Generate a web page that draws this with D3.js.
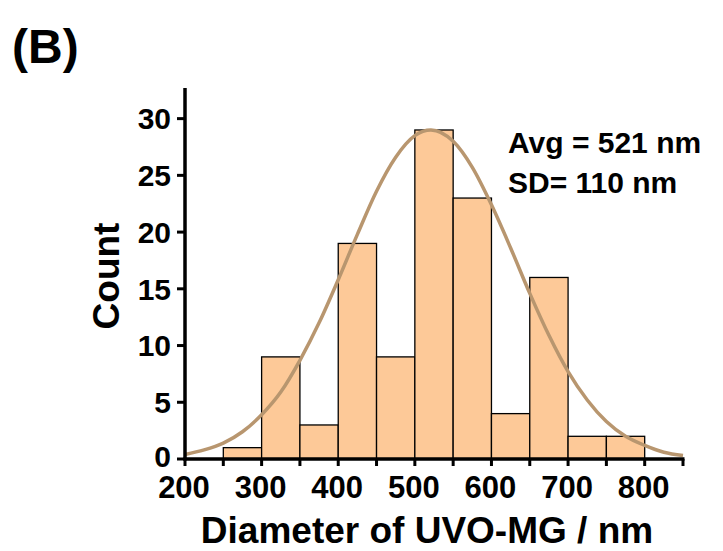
<!DOCTYPE html>
<html>
<head>
<meta charset="utf-8">
<script src="https://cdn.jsdelivr.net/npm/d3@7"></script>
<style>
  body { margin: 0; background: #fff; }
  text { font-family: "Liberation Sans", Arial, sans-serif; font-weight: bold; fill: #000; }
</style>
</head>
<body>
<div id="chart"></div>
<script>
// histogram data
var binStart = [250, 300, 350, 400, 450, 500, 550, 600, 650, 700, 750];
var binWidth = 50;
var counts = [1, 9, 3, 19, 9, 29, 23, 4, 16, 2, 2];

// gauss fit curve
var fitX = [200, 225, 250, 275, 300, 325, 350, 375, 400, 425, 450, 475, 500, 521, 550, 575, 600, 625, 650, 675, 700, 725, 750, 775, 800, 825, 850];
var fitY = [0.4, 0.8, 1.4, 2.4, 3.9, 5.9, 8.7, 12.0, 15.8, 19.8, 23.6, 26.6, 28.5, 29.0, 28.0, 25.7, 22.4, 18.6, 14.6, 10.9, 7.7, 5.2, 3.3, 2.0, 1.2, 0.6, 0.3];

var xTicks = [200, 300, 400, 500, 600, 700, 800];
var xMinor = [250, 350, 450, 550, 650, 750, 850];
var yTicks = [0, 5, 10, 15, 20, 25, 30];

var w = 723, h = 551;

var svg = d3.select("#chart")
    .append("svg")
    .attr("width", w)
    .attr("height", h);

var x = d3.scaleLinear().domain([200, 850]).range([185, 683]);
var y = d3.scaleLinear().domain([0, 32.7]).range([459, 88]);

// bars
svg.selectAll(".bar")
    .data(counts)
    .enter()
    .append("rect")
    .attr("class", "bar")
    .attr("x", function(d, i) { return x(binStart[i]); })
    .attr("width", function(d, i) { return x(binStart[i] + binWidth) - x(binStart[i]); })
    .attr("y", function(d) { return y(d); })
    .attr("height", function(d) { return y(0) - y(d); })
    .attr("fill", "#fdc998")
    .attr("stroke", "#000")
    .attr("stroke-width", 1.3);

// fit curve
var line = d3.line()
    .x(function(d, i) { return x(fitX[i]); })
    .y(function(d) { return y(d); })
    .curve(d3.curveMonotoneX);

svg.append("path")
    .datum(fitY)
    .attr("d", line)
    .attr("fill", "none")
    .attr("stroke", "#b8966f")
    .attr("stroke-width", 3.5);

// x axis
var xAxis = svg.append("g").attr("transform", "translate(0," + y(0) + ")");
xAxis.append("line")
    .attr("x1", x(200) - 1.5).attr("x2", x(850) + 1.5)
    .attr("stroke", "#000").attr("stroke-width", 3.5);
xAxis.selectAll(".xt")
    .data(xTicks.concat(xMinor))
    .enter()
    .append("line")
    .attr("x1", function(d) { return x(d); })
    .attr("x2", function(d) { return x(d); })
    .attr("y1", 0)
    .attr("y2", 7)
    .attr("stroke", "#000")
    .attr("stroke-width", 3);
xAxis.selectAll(".xl")
    .data(xTicks)
    .enter()
    .append("text")
    .attr("x", function(d) { return x(d) - 1; })
    .attr("y", 39)
    .attr("text-anchor", "middle")
    .style("font-size", "31px")
    .text(function(d) { return d; });

// y axis
var yAxis = svg.append("g").attr("transform", "translate(" + x(200) + ",0)");
yAxis.append("line")
    .attr("y1", y(32.7)).attr("y2", y(0) + 1.5)
    .attr("stroke", "#000").attr("stroke-width", 3.5);
yAxis.selectAll(".yt")
    .data(yTicks)
    .enter()
    .append("line")
    .attr("x1", -8)
    .attr("x2", 0)
    .attr("y1", function(d) { return y(d); })
    .attr("y2", function(d) { return y(d); })
    .attr("stroke", "#000")
    .attr("stroke-width", 3);
yAxis.selectAll(".yl")
    .data(yTicks)
    .enter()
    .append("text")
    .attr("x", -14)
    .attr("y", function(d) { return d === 0 ? y(d) - 3 : y(d); })
    .attr("dy", "0.36em")
    .attr("text-anchor", "end")
    .style("font-size", "30px")
    .text(function(d) { return d; });

// axis titles
svg.append("text")
    .attr("x", 427)
    .attr("y", 543)
    .attr("text-anchor", "middle")
    .style("font-size", "37px")
    .text("Diameter of UVO-MG / nm");

svg.append("text")
    .attr("transform", "translate(119,276) rotate(-90)")
    .attr("text-anchor", "middle")
    .style("font-size", "37px")
    .text("Count");

// panel label
svg.append("text")
    .attr("x", 12)
    .attr("y", 63)
    .style("font-size", "48px")
    .text("(B)");

// stats
svg.append("text")
    .attr("x", 508)
    .attr("y", 153)
    .style("font-size", "30px")
    .text("Avg = 521 nm");
svg.append("text")
    .attr("x", 508)
    .attr("y", 193)
    .style("font-size", "30px")
    .text("SD= 110 nm");
</script>
</body>
</html>
